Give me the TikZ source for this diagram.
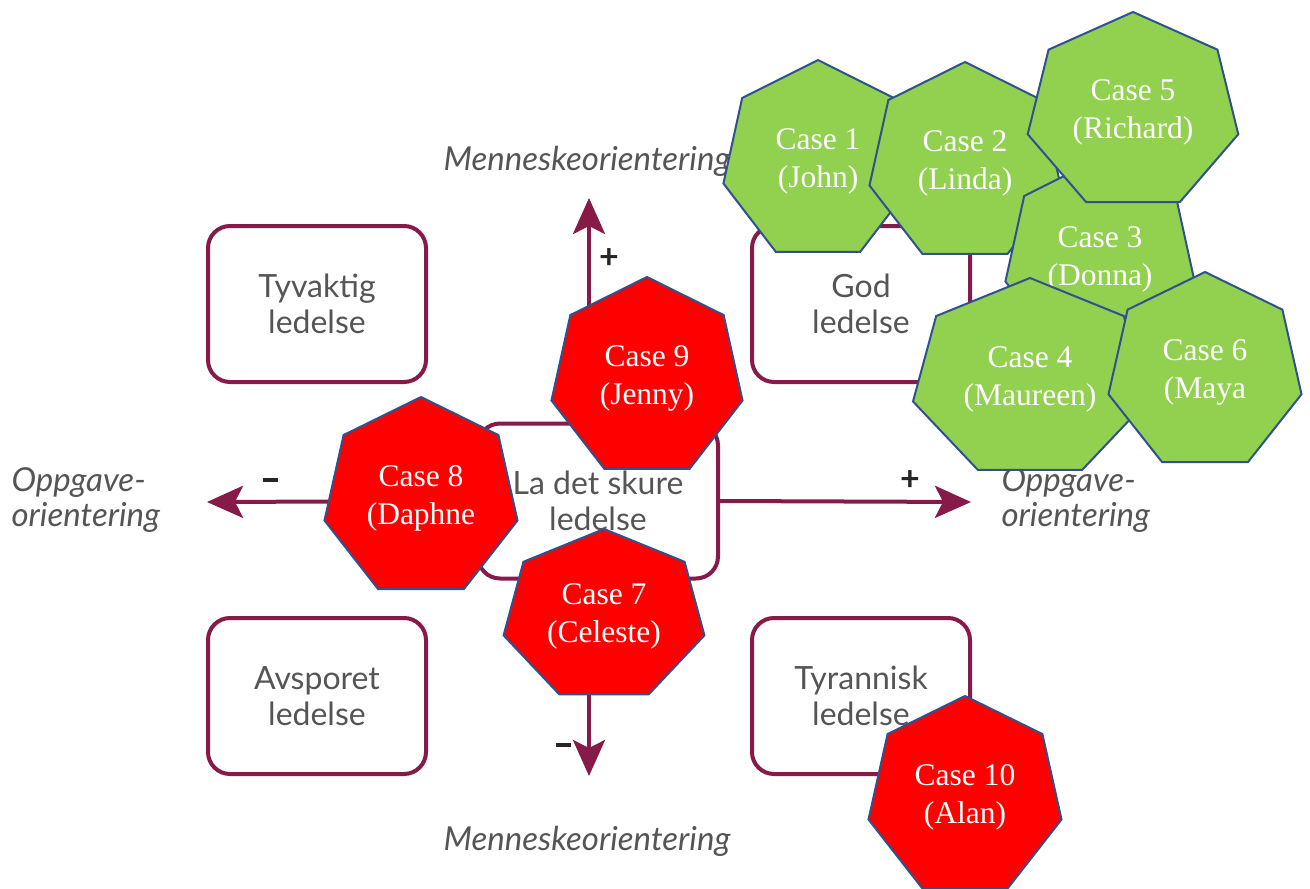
\documentclass[tikz,border=0pt]{standalone}
\usepackage{fontspec}
\setmainfont{Liberation Serif}
\newfontfamily\labelfont{Lato}
\usetikzlibrary{arrows.meta,calc,shapes.geometric}

\definecolor{maroon}{RGB}{134,26,72}
\definecolor{boxgray}{RGB}{85,85,85}
\definecolor{heptblue}{RGB}{47,82,143}
\definecolor{casegreen}{RGB}{146,208,80}
\definecolor{casered}{RGB}{255,0,0}

\tikzset{
  quadrant/.style={draw=maroon, line width=4pt, rounded corners=22pt, minimum width=218pt,
    minimum height=156pt, align=center, text=boxgray, font=\labelfont\fontsize{32}{36}\selectfont},
  axis/.style={draw=maroon, line width=4pt, -{Stealth[length=36pt,width=32pt,inset=8pt]}},
  axislabel/.style={text=boxgray, font=\labelfont\itshape\fontsize{33}{35}\selectfont},
  sign/.style={text=black!85, inner sep=0pt, font=\labelfont\bfseries\fontsize{34}{34}\selectfont},
  hept/.style={draw=heptblue, line width=2pt, line join=miter},
  casetext/.style={text=white, align=center, font=\fontsize{31.5}{38}\selectfont}
}

% heptagon: name, fill, centre, x radius, y radius, text
\newcommand{\casehept}[6]{%
  \coordinate (#1) at (#3);
  \draw[hept, fill=#2] ($(#1)+(-90:#4 and #5)$)
    \foreach \k in {1,...,6}{ -- ($(#1)+(-90+\k*360/7:#4 and #5)$)} -- cycle;
  \node[casetext] (#1-text) at (#1) {#6};
}

\begin{document}
\begin{tikzpicture}[x=1pt,y=-1pt]
\useasboundingbox[fill=white] (0,0) rectangle (1310,889);

% the five styles of leadership
\node[quadrant] (tyvaktig) at (317,304) {Tyvaktig\\ledelse};
\node[quadrant] (god) at (861,304) {God\\ledelse};
\node[quadrant, minimum width=240pt, minimum height=155pt] (skure) at (598,501) {La det skure\\ledelse};
\node[quadrant] (avsporet) at (317,696) {Avsporet\\ledelse};
\node[quadrant] (tyrannisk) at (861,696) {Tyrannisk\\ledelse};

% axes
\coordinate (uptip) at (589,198);
\coordinate (downtip) at (589,776);
\coordinate (lefttip) at (207,502);
\coordinate (righttip) at (971,502);
\draw[axis] (uptip |- skure.north) -- (uptip);
\draw[axis] (downtip |- skure.south) -- (downtip);
\draw[axis] (skure.west) -- (lefttip);
\draw[axis] (skure.east) -- (righttip);

\node[sign] (plusup) at (609,259) {+};
\node[sign] (minusleft) at (270,480) {\rule{15pt}{4.5pt}};
\node[sign] (plusright) at (910,481) {+};
\node[sign] (minusdown) at (563,745) {\rule{15pt}{4.5pt}};

\node[axislabel] (mtop) at (587,161) {Menneskeorientering};
\node[axislabel] (mbottom) at (587,841) {Menneskeorientering};
\node[axislabel, align=left, anchor=west] (oleft) at (8,500) {Oppgave-\\orientering};
\node[axislabel, align=left, anchor=west] (oright) at (998,500) {Oppgave-\\orientering};

% the cases
\casehept{case1}{casegreen}{818,161}{97}{101}{Case 1\\(John)}
\casehept{case2}{casegreen}{965,163}{98}{101}{Case 2\\(Linda)}
\casehept{case3}{casegreen}{1100,259}{97}{101}{Case 3\\(Donna)}
\casehept{case5}{casegreen}{1133,112}{108}{100}{Case 5\\(Richard)}
\casehept{case4}{casegreen}{1030,379}{120}{101}{Case 4\\(Maureen)}
\casehept{case6}{casegreen}{1205,372}{99}{100}{Case 6\\(Maya}
\casehept{case9}{casered}{647,378}{98}{101}{Case 9\\(Jenny)}
\casehept{case8}{casered}{421,498}{99}{101}{Case 8\\(Daphne}
\casehept{case7}{casered}{604,616}{103}{87}{Case 7\\(Celeste)}
\casehept{case10}{casered}{965,797}{99}{101}{Case 10\\(Alan)}

\end{tikzpicture}
\end{document}
